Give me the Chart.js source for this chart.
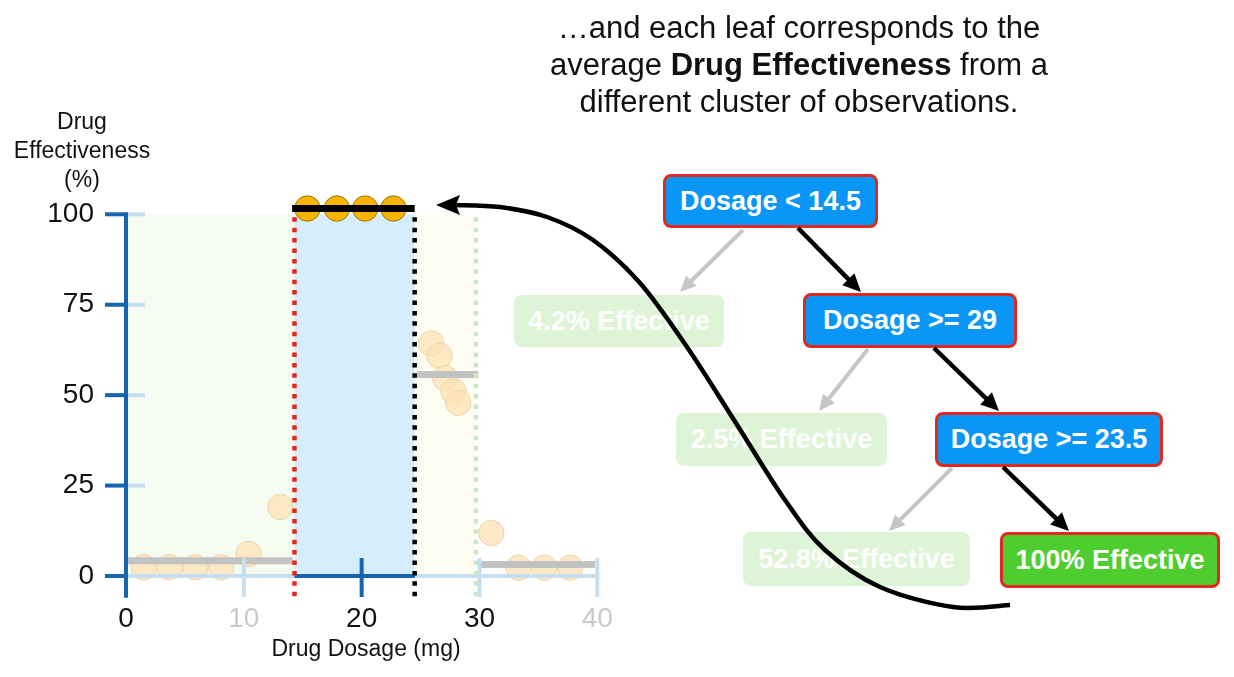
<!DOCTYPE html>
<html><head><meta charset="utf-8">
<script src="https://cdn.jsdelivr.net/npm/chart.js@4.4.0/dist/chart.umd.min.js"></script>
<style>
html,body{margin:0;padding:0;background:#fff;}
#wrap{position:relative;width:1234px;height:677px;overflow:hidden;font-family:"Liberation Sans",Arial,Helvetica,sans-serif;}
#c{position:absolute;left:0;top:0;width:1234px;height:677px;}
.txt{position:absolute;color:#111;white-space:nowrap;text-align:center;}
.node{position:absolute;box-sizing:border-box;border-radius:8px;color:#fff;font-weight:bold;font-size:27px;display:flex;align-items:center;justify-content:center;white-space:nowrap;}
.active{background:#0a96f6;border:3px solid #e1291f;}
.leaf{background:#4ecd2f;border:3px solid #e1291f;}
.faded{background:#ddf5d6;}
#ov{position:absolute;left:0;top:0;}
</style></head>
<body>
<div id="wrap">
<canvas id="c" width="1234" height="677"></canvas>
<div class="txt" style="left:799px;top:9px;transform:translateX(-50%);font-size:31px;line-height:37px;">…and each leaf corresponds to the<br>average <b>Drug Effectiveness</b> from a<br>different cluster of observations.</div>
<div class="txt" style="left:82px;top:107px;transform:translateX(-50%);font-size:23px;line-height:29px;">Drug<br>Effectiveness<br>(%)</div>
<div class="txt" style="left:366px;top:635px;transform:translateX(-50%);font-size:23px;line-height:27px;">Drug Dosage (mg)</div>
<div id="tree"></div>
<svg id="ov" width="1234" height="677"></svg>
</div>
<script>
// ---- data ----
const xTicks = [0, 10, 20, 30, 40];
const yTicks = [0, 25, 50, 75, 100];
const xTickFaded = [10, 40];
const lowDose = [1.5, 3.7, 5.9, 8.1, 10.4, 13.1];
const lowEff  = [2.4, 2.4, 2.4, 2.4, 6.1, 19.1];
const midDose = [15.4, 17.9, 20.3, 22.7];
const midEff  = [101.6, 101.6, 101.6, 101.6];
const highDose = [25.9, 26.6, 27.1, 27.8, 28.2];
const highEff  = [64.3, 60.9, 54.7, 51.0, 47.9];
const rightDose = [31.0, 33.3, 35.5, 37.7];
const rightEff  = [11.9, 2.3, 2.3, 2.3];
const splitRed = 14.3, splitBlack = 24.5, splitGreen = 29.7;
const meanFrom = [0.06, 24.7, 30.0];
const meanTo   = [14.15, 29.9, 39.8];
const meanVal  = [4.2, 55.7, 3.2];
const activeFrom = 14.1, activeTo = 24.5, activeVal = 101.6;
const nodeLabels = ["Dosage < 14.5", "4.2% Effective", "Dosage >= 29", "2.5% Effective", "Dosage >= 23.5", "52.8% Effective", "100% Effective"];

const pts = (xs, ys) => xs.map((x, i) => ({x: x, y: ys[i]}));

const DARK = '#1565b0', LIGHT = '#c7ddf0';

const datasets = [];
meanFrom.forEach((f, i) => datasets.push({
  type: 'line', data: [{x: f, y: meanVal[i]}, {x: meanTo[i], y: meanVal[i]}],
  borderColor: '#c2c2c2', borderWidth: 7, pointRadius: 0, borderCapStyle: 'butt', order: 1, clip: false
}));
datasets.push({type: 'line', data: [{x: activeFrom, y: activeVal}, {x: activeTo, y: activeVal}],
  borderColor: '#000', borderWidth: 7, pointRadius: 0, borderCapStyle: 'butt', order: 0, clip: false});
datasets.push({data: pts(midDose, midEff), pointRadius: 12.7, backgroundColor: '#f7b500', borderColor: '#9a7410', borderWidth: 1, order: 2, clip: false});
datasets.push({data: pts(lowDose, lowEff).concat(pts(highDose, highEff), pts(rightDose, rightEff)),
  pointRadius: 12.7, backgroundColor: 'rgba(252,226,180,0.75)', borderColor: 'rgba(236,210,160,0.9)', borderWidth: 1, order: 3, clip: false});

const decor = {
  id: 'decor',
  beforeDatasetsDraw(chart) {
    const c = chart.ctx, xs = chart.scales.x, ys = chart.scales.y;
    const top = ys.getPixelForValue(100), y0 = ys.getPixelForValue(0);
    c.save();
    c.fillStyle = '#f6fbf2'; c.fillRect(xs.getPixelForValue(0), top, xs.getPixelForValue(splitRed) - xs.getPixelForValue(0), y0 - top);
    c.fillStyle = '#d6eefc'; c.fillRect(xs.getPixelForValue(splitRed), top, xs.getPixelForValue(splitBlack) - xs.getPixelForValue(splitRed), y0 - top);
    c.fillStyle = '#fefdf2'; c.fillRect(xs.getPixelForValue(splitBlack), top, xs.getPixelForValue(splitGreen) - xs.getPixelForValue(splitBlack), y0 - top);
    c.restore();
  },
  afterDatasetsDraw(chart) {
    const c = chart.ctx, xs = chart.scales.x, ys = chart.scales.y;
    const X = v => xs.getPixelForValue(v), Y = v => ys.getPixelForValue(v);
    const y0 = Y(0), ax = X(0);
    c.save();
    c.lineCap = 'butt';
    c.lineWidth = 4;
    // x axis
    c.strokeStyle = LIGHT;
    c.beginPath(); c.moveTo(ax, y0); c.lineTo(X(40) + 2, y0); c.stroke();
    c.strokeStyle = DARK;
    c.beginPath(); c.moveTo(X(splitRed), y0); c.lineTo(X(splitBlack), y0); c.stroke();
    xTicks.forEach(v => {
      if (v === 0) return;
      c.strokeStyle = (v > splitRed && v < splitBlack) ? DARK : LIGHT;
      c.beginPath(); c.moveTo(X(v), y0 - 18); c.lineTo(X(v), y0 + 21); c.stroke();
    });
    // y axis ticks
    yTicks.forEach(v => {
      c.strokeStyle = LIGHT; c.beginPath(); c.moveTo(ax, Y(v)); c.lineTo(ax + 19, Y(v)); c.stroke();
      c.strokeStyle = DARK; c.beginPath(); c.moveTo(ax - 21, Y(v)); c.lineTo(ax, Y(v)); c.stroke();
    });
    c.strokeStyle = DARK;
    c.beginPath(); c.moveTo(ax, Y(100) - 2); c.lineTo(ax, Y(-6)); c.stroke();
    // split lines
    c.lineWidth = 4.5; c.setLineDash([4.5, 5.9]);
    [[splitRed, '#e8241b'], [splitBlack, '#000'], [splitGreen, '#cbe8c3']].forEach(([v, col]) => {
      c.strokeStyle = col; c.beginPath(); c.moveTo(X(v), Y(100) + 3); c.lineTo(X(v), Y(-6)); c.stroke();
    });
    c.restore();
  }
};

new Chart(document.getElementById('c'), {
  type: 'scatter',
  data: {datasets: datasets},
  options: {
    responsive: false, animation: false, devicePixelRatio: 1,
    layout: {autoPadding: false, padding: {left: 0, top: 214.3, right: 636.7, bottom: 0}},
    plugins: {legend: {display: false}, tooltip: {enabled: false}},
    scales: {
      x: {type: 'linear', min: 0, max: 40, border: {display: false}, grid: {display: false, drawTicks: false},
        ticks: {padding: 5, font: {size: 28, family: '"Liberation Sans", Arial, sans-serif'},
          color: (ctx) => xTickFaded.includes(ctx.tick.value) ? '#c9c9c9' : '#111'},
        afterBuildTicks: (s) => { s.ticks = xTicks.map(v => ({value: v})); },
        afterFit: (s) => { s.height = 79.3; }},
      y: {type: 'linear', min: -6, max: 100, border: {display: false}, grid: {display: false, drawTicks: false},
        ticks: {padding: 32, font: {size: 28, family: '"Liberation Sans", Arial, sans-serif'}, color: '#111'},
        afterBuildTicks: (s) => { s.ticks = yTicks.map(v => ({value: v})); },
        afterFit: (s) => { s.width = 126; }}
    }
  },
  plugins: [decor]
});

// ---- tree (annotation) ----
const nodeBoxes = [
  [663, 174, 215, 54, 'active'], [514, 295, 210, 52, 'faded'], [803, 293, 214, 55, 'active'],
  [676, 413, 211, 53, 'faded'], [935, 412, 228, 55, 'active'], [743, 532, 227, 54, 'faded'], [1000, 532, 220, 56, 'leaf']
];
const tree = document.getElementById('tree');
nodeBoxes.forEach((b, i) => {
  const d = document.createElement('div');
  d.className = 'node ' + b[4];
  d.style.left = b[0] + 'px'; d.style.top = b[1] + 'px'; d.style.width = b[2] + 'px'; d.style.height = b[3] + 'px';
  d.textContent = nodeLabels[i];
  tree.appendChild(d);
});
const svg = document.getElementById('ov');
const NS = 'http://www.w3.org/2000/svg';
function arrow(x1, y1, x2, y2, col, w, hl, hw) {
  const a = Math.atan2(y2 - y1, x2 - x1);
  const bx = x2 - hl * Math.cos(a), by = y2 - hl * Math.sin(a);
  const l = document.createElementNS(NS, 'line');
  l.setAttribute('x1', x1); l.setAttribute('y1', y1); l.setAttribute('x2', bx + Math.cos(a)); l.setAttribute('y2', by + Math.sin(a));
  l.setAttribute('stroke', col); l.setAttribute('stroke-width', w);
  svg.appendChild(l);
  const p = document.createElementNS(NS, 'polygon');
  const px = -Math.sin(a) * hw / 2, py = Math.cos(a) * hw / 2;
  p.setAttribute('points', `${x2},${y2} ${bx + px},${by + py} ${bx - px},${by - py}`);
  p.setAttribute('fill', col);
  svg.appendChild(p);
}
arrow(743, 230, 680, 292, '#c6c6c6', 4, 16, 15);
arrow(868, 349, 819, 411, '#c6c6c6', 4, 16, 15);
arrow(952, 468, 889, 531, '#c6c6c6', 4, 16, 15);
arrow(798, 228, 861, 292, '#000', 4.5, 18, 17);
arrow(934, 348, 999, 411, '#000', 4.5, 18, 17);
arrow(1003, 467, 1069, 531, '#000', 4.5, 18, 17);

// curved pointer arrow (catmull-rom through guide points)
const guide = [[455,205],[500,207],[547,217],[593,240],[640,283],[687,347],[734,420],[785,500],[825,550],[880,587],[953,607],[1010,605]];
let d = `M${guide[0][0]},${guide[0][1]}`;
for (let i = 0; i < guide.length - 1; i++) {
  const p0 = guide[Math.max(0, i - 1)], p1 = guide[i], p2 = guide[i + 1], p3 = guide[Math.min(guide.length - 1, i + 2)];
  const c1x = p1[0] + (p2[0] - p0[0]) / 6, c1y = p1[1] + (p2[1] - p0[1]) / 6;
  const c2x = p2[0] - (p3[0] - p1[0]) / 6, c2y = p2[1] - (p3[1] - p1[1]) / 6;
  d += ` C${c1x},${c1y} ${c2x},${c2y} ${p2[0]},${p2[1]}`;
}
const path = document.createElementNS(NS, 'path');
path.setAttribute('d', d); path.setAttribute('fill', 'none'); path.setAttribute('stroke', '#000'); path.setAttribute('stroke-width', 4.5);
svg.appendChild(path);
const head = document.createElementNS(NS, 'polygon');
head.setAttribute('points', '436,205 460,195 456,205 460,215');
head.setAttribute('fill', '#000');
svg.appendChild(head);
</script>
</body></html>
